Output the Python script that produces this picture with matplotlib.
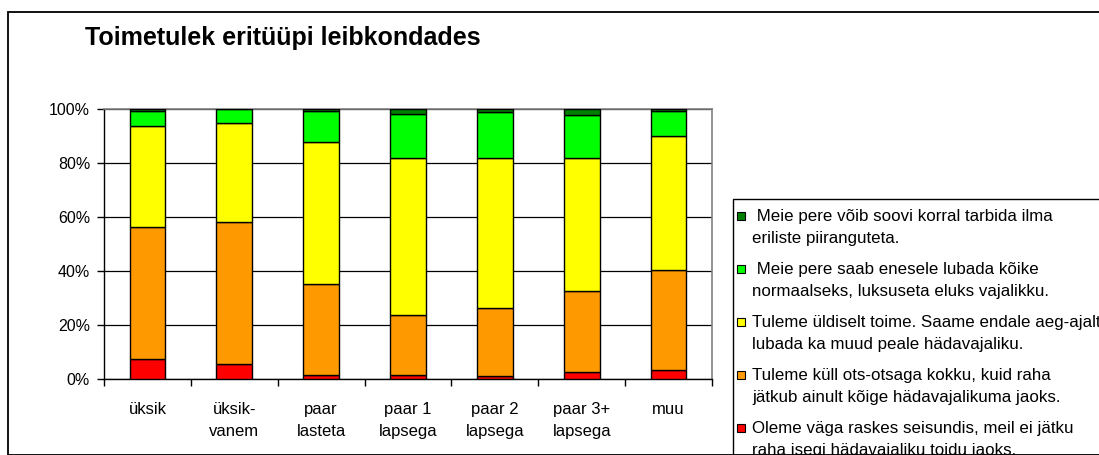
import matplotlib

matplotlib.use("Agg")
import matplotlib.pyplot as plt
import numpy as np
from matplotlib.patches import Rectangle

plt.rcParams["font.family"] = ["Liberation Sans", "DejaVu Sans"]

categories = ["üksik", "üksik-\nvanem", "paar\nlasteta", "paar 1\nlapsega",
              "paar 2\nlapsega", "paar 3+\nlapsega", "muu"]

# shares in percent, bottom to top
red_share = [7.6, 5.7, 1.5, 1.5, 1.1, 2.8, 3.4]
orange_share = [48.8, 52.4, 33.8, 22.3, 25.1, 30.0, 37.0]
yellow_share = [37.2, 36.6, 52.3, 58.0, 55.6, 49.0, 49.6]
green_share = [5.7, 5.3, 11.7, 16.2, 17.0, 15.7, 9.1]
darkgreen_share = [0.7, 0.0, 0.7, 2.0, 1.2, 2.5, 0.9]

series_labels = [
    "Oleme väga raskes seisundis, meil ei jätku\nraha isegi hädavajaliku toidu jaoks.",
    "Tuleme küll ots-otsaga kokku, kuid raha\njätkub ainult kõige hädavajalikuma jaoks.",
    "Tuleme üldiselt toime. Saame endale aeg-ajalt\nlubada ka muud peale hädavajaliku.",
    " Meie pere saab enesele lubada kõike\nnormaalseks, luksuseta eluks vajalikku.",
    " Meie pere võib soovi korral tarbida ilma\neriliste piiranguteta.",
]
series_values = [red_share, orange_share, yellow_share, green_share, darkgreen_share]
series_colors = ["#ff0000", "#ff9900", "#ffff00", "#00ff00", "#008000"]

W, H = 1099, 455
fig = plt.figure(figsize=(W / 100, H / 100), dpi=100)

# outer chart border
fig.patches.append(Rectangle((8 / W, 0), 2, (H - 12) / H, transform=fig.transFigure,
                             fill=False, edgecolor="black", lw=1.3))

fig.text(85 / W, 1 - 45 / H, "Toimetulek eritüüpi leibkondades",
         fontsize=18, fontweight="bold", va="baseline", ha="left")

ax = fig.add_axes([104 / W, 1 - 379.3 / H, 608 / W, 270.6 / H])
x = np.arange(len(categories))
bottom = np.zeros(len(categories))
for values, color in zip(series_values, series_colors):
    ax.bar(x, values, width=0.41, bottom=bottom, color=color,
           edgecolor="black", linewidth=1.0, zorder=3)
    bottom += np.array(values)

ax.set_xlim(-0.5, len(categories) - 0.5)
ax.set_ylim(0, 100)
ax.set_yticks(np.arange(0, 101, 20))
ax.set_yticklabels([f"{v}%" for v in range(0, 101, 20)], fontsize=11.5)
ax.set_xticks(x)
ax.set_xticklabels(categories, fontsize=12, linespacing=1.6)
ax.set_xticks(np.arange(-0.5, len(categories), 1.0), minor=True)
ax.tick_params(axis="x", which="major", length=0, pad=16)
ax.tick_params(axis="x", which="minor", length=5, width=1, direction="out")
ax.tick_params(axis="y", length=5, width=1, pad=5)
ax.yaxis.grid(True, color="black", linewidth=0.9, zorder=0)
ax.set_axisbelow(True)
for side in ("top", "right"):
    ax.spines[side].set_color("#808080")
    ax.spines[side].set_linewidth(1.2)
for side in ("left", "bottom"):
    ax.spines[side].set_color("black")
    ax.spines[side].set_linewidth(1.0)

# legend box, running off the right and bottom edges
fig.patches.append(Rectangle((733 / W, 0), 2, (H - 199) / H, transform=fig.transFigure,
                             fill=False, edgecolor="black", lw=1.0))
first_line_y = [216, 269, 322, 375, 428]
for label, color, y in zip(series_labels[::-1], series_colors[::-1], first_line_y):
    fig.patches.append(Rectangle((737 / W, 1 - (y + 4) / H), 8 / W, 8 / H,
                                 transform=fig.transFigure, facecolor=color,
                                 edgecolor="black", lw=0.8))
    fig.text(752 / W, 1 - (y - 7) / H, label, fontsize=12.2, va="top", ha="left",
             linespacing=1.55)

fig.savefig("out.png", dpi=100)
